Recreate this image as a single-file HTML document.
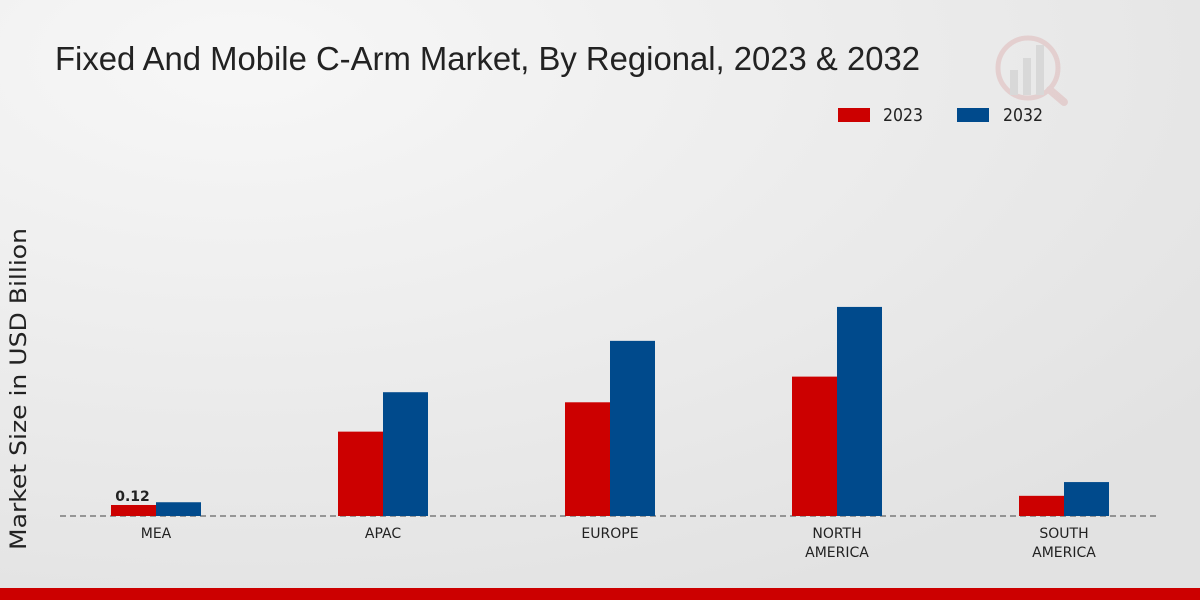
<!DOCTYPE html>
<html><head><meta charset="utf-8"><style>
html,body{margin:0;padding:0;width:1200px;height:600px;overflow:hidden;font-family:"DejaVu Sans","Liberation Sans",sans-serif;}
</style></head><body>
<svg id="chart" width="1200" height="600" viewBox="0 0 1200 600" xmlns="http://www.w3.org/2000/svg">
<defs><radialGradient id="bg" cx="20%" cy="10%" r="100%"><stop offset="0" stop-color="#f7f7f7"/><stop offset="1" stop-color="#e2e2e2"/></radialGradient></defs>
<rect width="1200" height="600" fill="url(#bg)"/>
<text x="55" y="70" font-size="33" fill="#222" font-family="Liberation Sans, sans-serif" textLength="865" lengthAdjust="spacingAndGlyphs">Fixed And Mobile C-Arm Market, By Regional, 2023 &amp; 2032</text>
<g opacity="0.35">
<circle cx="1028" cy="68" r="30" fill="none" stroke="#d9a0a0" stroke-width="5"/>
<rect x="1010" y="70" width="8" height="25" fill="#bbb"/><rect x="1023" y="58" width="8" height="37" fill="#bbb"/><rect x="1036" y="45" width="8" height="50" fill="#bbb"/>
<line x1="1050" y1="90" x2="1064" y2="102" stroke="#d9a0a0" stroke-width="8" stroke-linecap="round"/>
</g>
<g>
<rect x="838" y="108" width="32" height="14" fill="#cc0000"/>
<text x="883" y="121" font-size="18" fill="#222" textLength="40" lengthAdjust="spacingAndGlyphs">2023</text>
<rect x="957" y="108" width="32" height="14" fill="#004a8c"/>
<text x="1003" y="121" font-size="18" fill="#222" textLength="40" lengthAdjust="spacingAndGlyphs">2032</text>
</g>
<text transform="translate(26,389) rotate(-90)" text-anchor="middle" font-size="22" fill="#222" textLength="322" lengthAdjust="spacingAndGlyphs">Market Size in USD Billion</text>
<line x1="60" y1="516" x2="1160" y2="516" stroke="#444" stroke-dasharray="6,4"/>
<g id="bars"></g>
<rect x="0" y="588" width="1200" height="12" fill="#cc0000"/>
</svg>
<script>
const categories = [["MEA"],["APAC"],["EUROPE"],["NORTH","AMERICA"],["SOUTH","AMERICA"]];
const values2023 = [0.12,0.92,1.24,1.52,0.22];
const values2032 = [0.15,1.35,1.91,2.28,0.37];
const baseY = 516, pxPerUnit = 91.7, firstCenter = 156, step = 227, barW = 45;
const yScale = v => baseY - v * pxPerUnit;
const xCenter = i => firstCenter + i * step;
const g = document.getElementById('bars');
const NS = 'http://www.w3.org/2000/svg';
categories.forEach((cat, i) => {
  const cx = xCenter(i);
  [[values2023[i], '#cc0000', cx - barW, '2023'], [values2032[i], '#004a8c', cx, '2032']].forEach(([v, col, x, yr]) => {
    const r = document.createElementNS(NS, 'rect');
    r.setAttribute('x', x); r.setAttribute('y', yScale(v));
    r.setAttribute('width', barW); r.setAttribute('height', baseY - yScale(v));
    r.setAttribute('fill', col);
    
    
    g.appendChild(r);
  });
  cat.forEach((line, j) => {
    const t = document.createElementNS(NS, 'text');
    t.setAttribute('x', cx); t.setAttribute('y', 538 + j * 19);
    t.setAttribute('text-anchor', 'middle'); t.setAttribute('font-size', '14'); t.setAttribute('fill', '#222');
    t.textContent = line;
    
    
    g.appendChild(t);
  });
});
const lbl = document.createElementNS(NS, 'text');
lbl.setAttribute('x', xCenter(0) - barW / 2 - 1); lbl.setAttribute('y', yScale(values2023[0]) - 4);
lbl.setAttribute('text-anchor', 'middle'); lbl.setAttribute('font-size', '14'); lbl.setAttribute('font-weight', 'bold'); lbl.setAttribute('fill', '#222');
lbl.textContent = values2023[0].toFixed(2);


g.appendChild(lbl);
</script>
</body></html>
